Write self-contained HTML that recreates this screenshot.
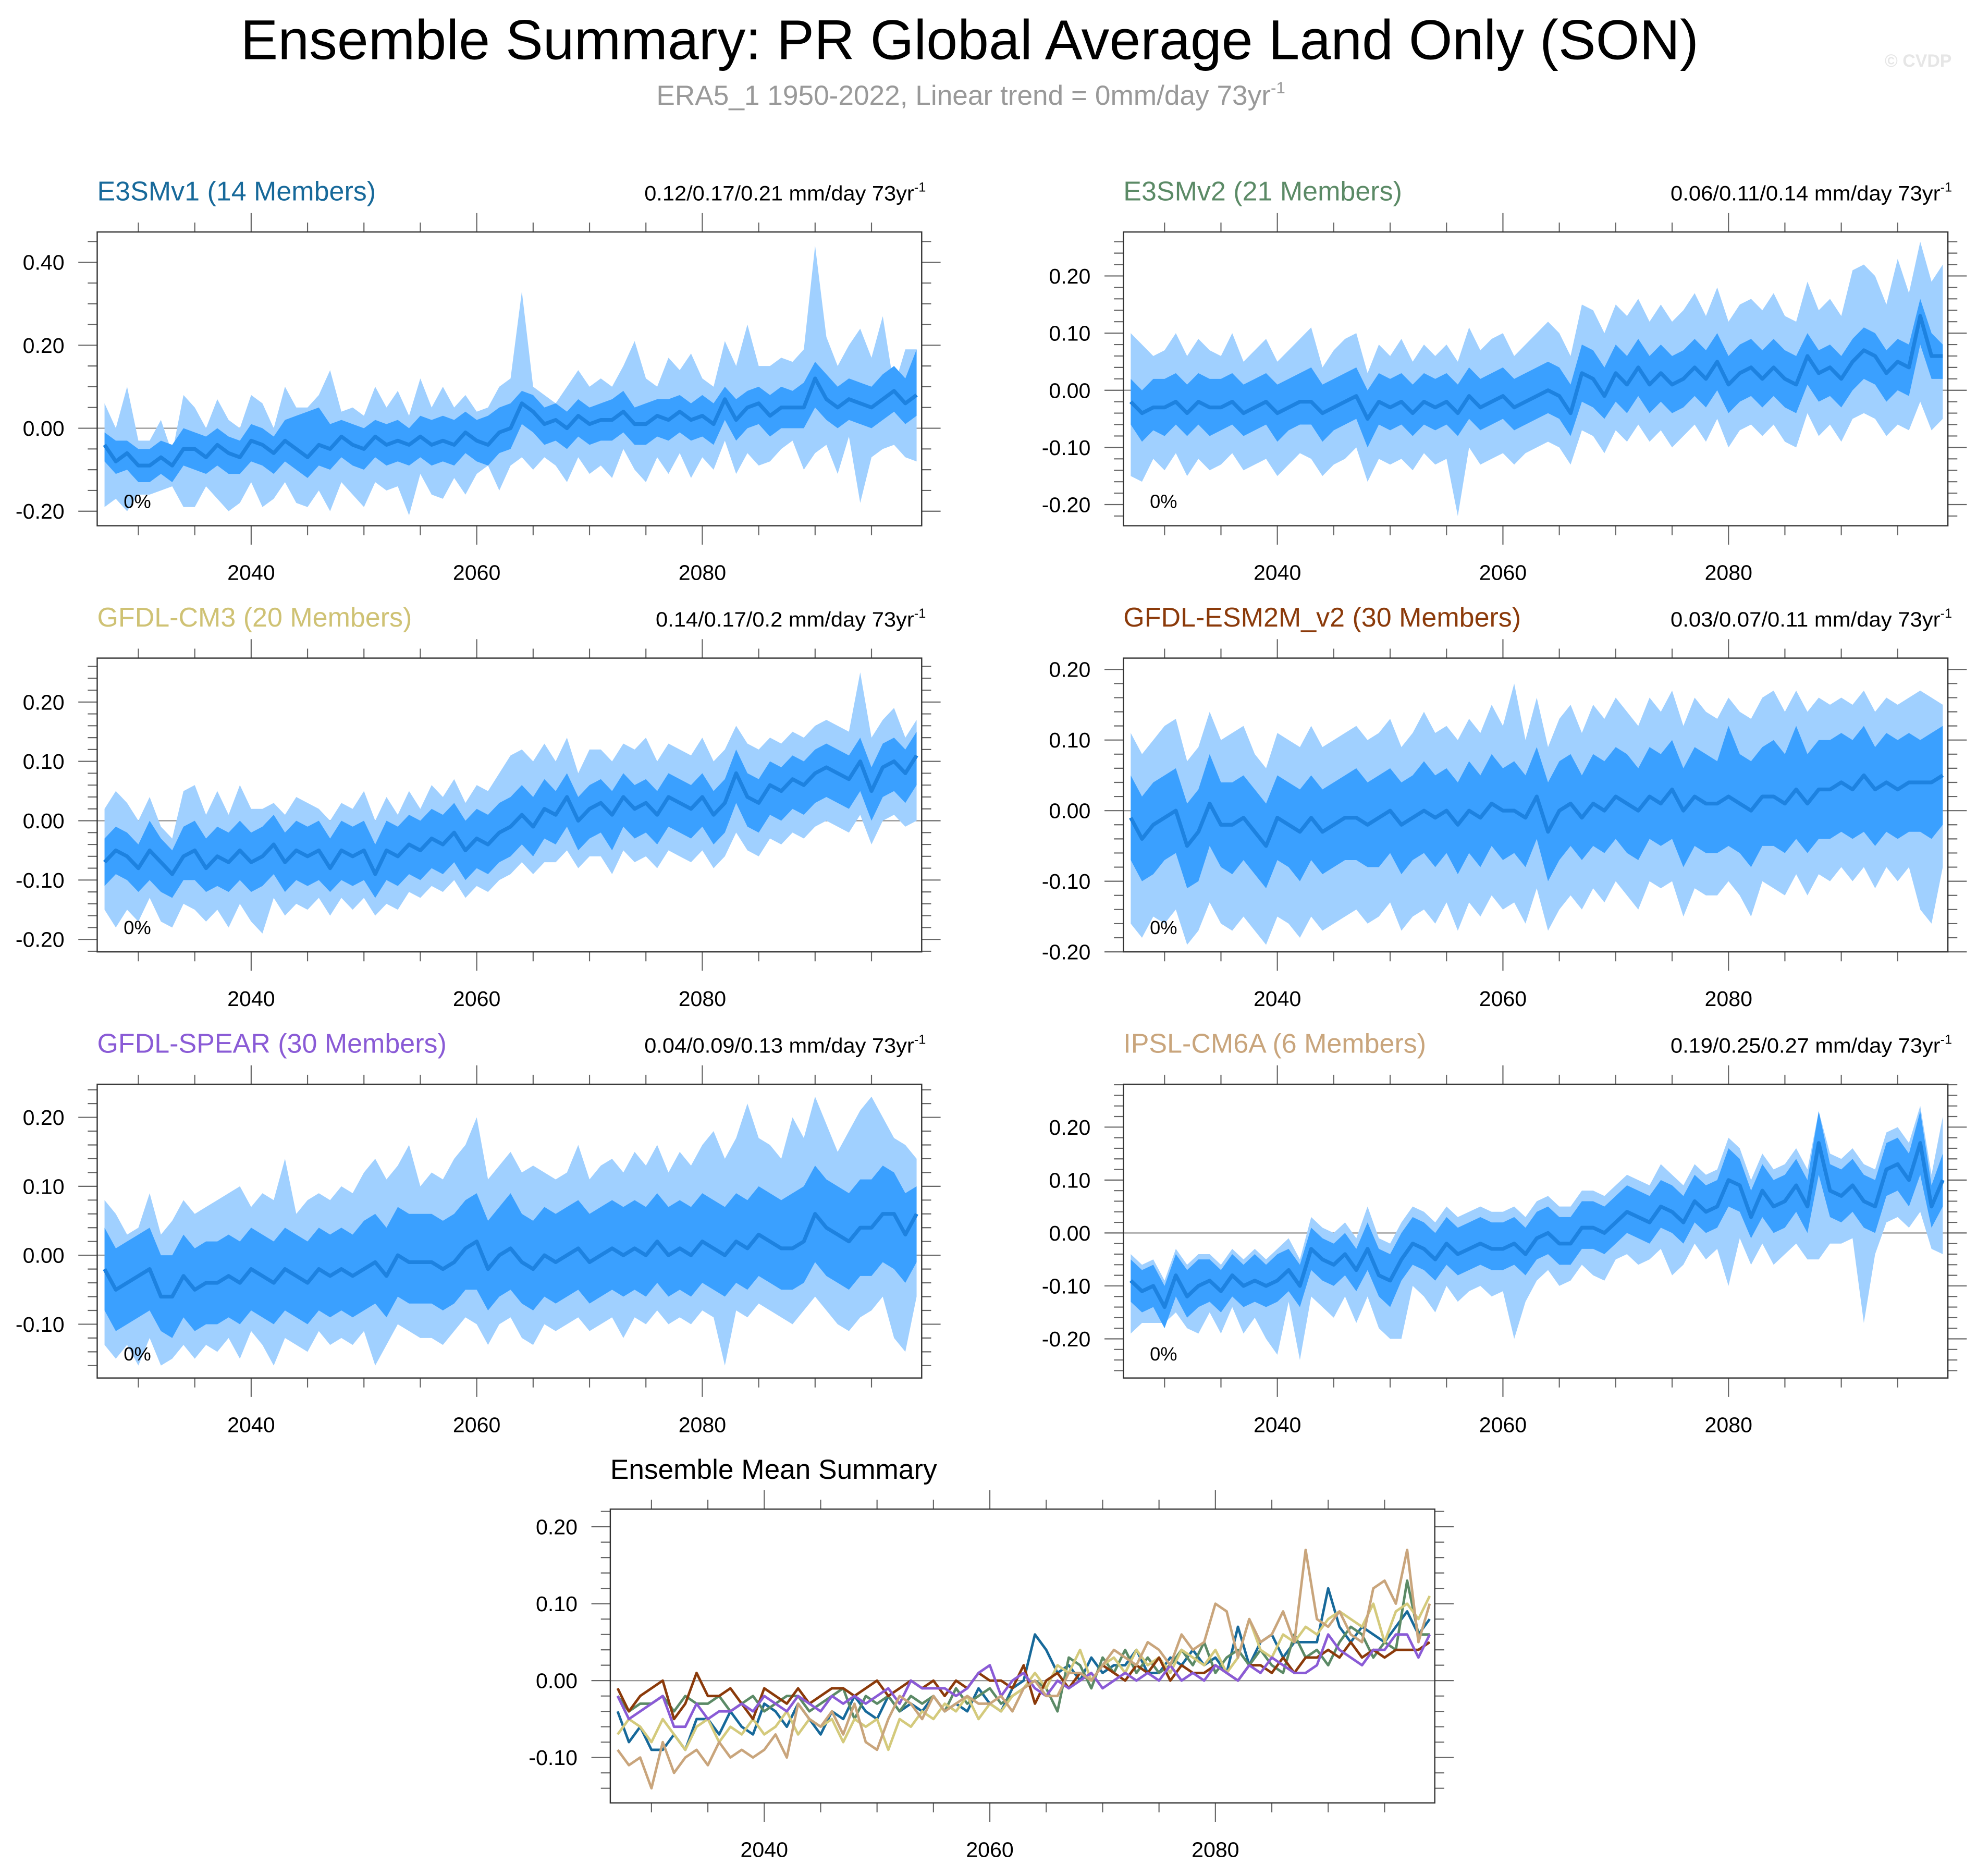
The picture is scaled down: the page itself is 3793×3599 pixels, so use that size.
<!DOCTYPE html>
<html><head><meta charset="utf-8">
<style>
html,body{margin:0;padding:0;background:#fff;}
svg{display:block;font-family:"Liberation Sans",sans-serif;}
</style></head>
<body>
<svg id="chart" xmlns="http://www.w3.org/2000/svg" width="3793" height="3599" viewBox="0 0 1568 1488">
<rect x="0" y="0" width="1568" height="1488" fill="#fff"/>
<text x="769" y="47" font-size="44.5" text-anchor="middle" fill="#000">Ensemble Summary: PR Global Average Land Only (SON)</text>
<text x="770" y="83" font-size="22" text-anchor="middle" fill="#999">ERA5_1 1950-2022, Linear trend = 0mm/day 73yr<tspan dy="-9" font-size="13">-1</tspan></text>
<text x="1548" y="53" font-size="14" font-weight="bold" text-anchor="end" fill="#e6e6e6">© CVDP</text>
<g id="panels"></g>
</svg>
<script>
const years = [];
for (let y = 2027; y <= 2099; y++) years.push(y);
const xTickLabels = [2040, 2060, 2080];

const e3v1Mean=[-0.04,-0.08,-0.06,-0.09,-0.09,-0.07,-0.09,-0.05,-0.05,-0.07,-0.04,-0.06,-0.07,-0.03,-0.04,-0.06,-0.03,-0.05,-0.07,-0.04,-0.05,-0.02,-0.04,-0.05,-0.02,-0.04,-0.03,-0.04,-0.02,-0.04,-0.03,-0.04,-0.01,-0.03,-0.04,-0.01,0.00,0.06,0.04,0.01,0.02,0.00,0.03,0.01,0.02,0.02,0.04,0.01,0.01,0.03,0.02,0.04,0.02,0.03,0.01,0.07,0.02,0.05,0.06,0.03,0.05,0.05,0.05,0.12,0.07,0.05,0.07,0.06,0.05,0.07,0.09,0.06,0.08];
const e3v1Hi2=[-0.01,-0.03,-0.03,-0.05,-0.05,-0.03,-0.04,0.00,-0.01,-0.02,0.00,-0.02,-0.03,0.01,0.00,-0.02,0.02,0.03,0.04,0.05,0.01,0.02,0.01,0.00,0.02,0.01,0.02,0.00,0.03,0.02,0.03,0.02,0.04,0.02,0.03,0.05,0.06,0.09,0.08,0.05,0.06,0.04,0.07,0.05,0.06,0.07,0.09,0.05,0.06,0.07,0.07,0.08,0.06,0.08,0.06,0.10,0.07,0.09,0.10,0.08,0.10,0.09,0.11,0.16,0.13,0.10,0.12,0.11,0.10,0.13,0.15,0.12,0.19];
const e3v1Lo2=[-0.08,-0.11,-0.10,-0.13,-0.13,-0.11,-0.13,-0.09,-0.10,-0.11,-0.09,-0.11,-0.11,-0.08,-0.09,-0.11,-0.08,-0.10,-0.12,-0.09,-0.10,-0.07,-0.09,-0.10,-0.07,-0.09,-0.08,-0.09,-0.07,-0.09,-0.08,-0.09,-0.06,-0.08,-0.09,-0.06,-0.05,0.01,-0.01,-0.04,-0.03,-0.05,-0.02,-0.04,-0.03,-0.03,-0.01,-0.04,-0.04,-0.02,-0.03,-0.01,-0.03,-0.02,-0.04,0.02,-0.03,0.00,0.01,-0.02,0.00,0.00,0.00,0.05,0.02,0.00,0.02,0.01,0.00,0.02,0.04,0.01,0.03];
const e3v1Hi1=[0.06,0.00,0.10,-0.03,-0.03,0.02,-0.06,0.08,0.05,0.00,0.07,0.02,0.00,0.08,0.06,0.00,0.10,0.05,0.05,0.08,0.14,0.04,0.05,0.03,0.10,0.05,0.09,0.03,0.12,0.05,0.10,0.05,0.08,0.04,0.05,0.10,0.12,0.33,0.10,0.08,0.06,0.10,0.14,0.10,0.12,0.10,0.15,0.21,0.12,0.10,0.17,0.14,0.18,0.12,0.10,0.21,0.15,0.25,0.15,0.15,0.17,0.16,0.19,0.44,0.22,0.15,0.20,0.24,0.17,0.27,0.10,0.19,0.19];
const e3v1Lo1=[-0.19,-0.17,-0.20,-0.16,-0.16,-0.15,-0.14,-0.19,-0.19,-0.14,-0.17,-0.20,-0.18,-0.13,-0.19,-0.17,-0.13,-0.18,-0.19,-0.15,-0.20,-0.13,-0.16,-0.19,-0.13,-0.15,-0.14,-0.21,-0.11,-0.16,-0.17,-0.12,-0.16,-0.11,-0.09,-0.15,-0.09,-0.07,-0.10,-0.07,-0.09,-0.13,-0.07,-0.11,-0.09,-0.12,-0.05,-0.10,-0.13,-0.07,-0.11,-0.06,-0.12,-0.07,-0.10,-0.03,-0.11,-0.06,-0.09,-0.08,-0.05,-0.03,-0.10,-0.06,-0.04,-0.11,-0.02,-0.18,-0.07,-0.05,-0.04,-0.07,-0.08];

const e3v2Mean=[-0.02,-0.04,-0.03,-0.03,-0.02,-0.04,-0.02,-0.03,-0.03,-0.02,-0.04,-0.03,-0.02,-0.04,-0.03,-0.02,-0.02,-0.04,-0.03,-0.02,-0.01,-0.05,-0.02,-0.03,-0.02,-0.04,-0.02,-0.03,-0.02,-0.04,-0.01,-0.03,-0.02,-0.01,-0.03,-0.02,-0.01,0.00,-0.01,-0.04,0.03,0.02,-0.01,0.03,0.01,0.04,0.01,0.03,0.01,0.02,0.04,0.02,0.05,0.01,0.03,0.04,0.02,0.04,0.02,0.01,0.06,0.03,0.04,0.02,0.05,0.07,0.06,0.03,0.05,0.04,0.13,0.06,0.06];
const e3v2Hi2=[0.02,0.00,0.02,0.02,0.03,0.01,0.03,0.02,0.02,0.03,0.01,0.02,0.03,0.01,0.02,0.03,0.04,0.01,0.02,0.03,0.04,0.00,0.03,0.02,0.03,0.01,0.03,0.02,0.03,0.01,0.04,0.02,0.03,0.04,0.02,0.03,0.04,0.05,0.04,0.01,0.08,0.07,0.04,0.08,0.06,0.09,0.06,0.08,0.06,0.07,0.09,0.07,0.10,0.06,0.08,0.09,0.07,0.09,0.07,0.06,0.10,0.07,0.08,0.06,0.09,0.11,0.10,0.07,0.09,0.08,0.16,0.10,0.08];
const e3v2Lo2=[-0.06,-0.09,-0.07,-0.08,-0.06,-0.08,-0.06,-0.08,-0.07,-0.06,-0.08,-0.07,-0.06,-0.09,-0.07,-0.06,-0.06,-0.09,-0.07,-0.06,-0.05,-0.10,-0.06,-0.07,-0.06,-0.08,-0.06,-0.07,-0.06,-0.08,-0.05,-0.07,-0.06,-0.05,-0.07,-0.06,-0.05,-0.04,-0.05,-0.08,-0.02,-0.03,-0.05,-0.02,-0.04,-0.01,-0.04,-0.02,-0.04,-0.03,-0.01,-0.03,0.00,-0.04,-0.02,-0.01,-0.03,-0.01,-0.03,-0.04,0.01,-0.02,-0.01,-0.03,0.00,0.02,0.01,-0.02,0.00,-0.01,0.08,0.02,0.02];
const e3v2Hi1=[0.10,0.08,0.06,0.07,0.10,0.06,0.09,0.07,0.06,0.10,0.05,0.07,0.09,0.05,0.07,0.09,0.11,0.04,0.07,0.09,0.10,0.03,0.08,0.06,0.09,0.05,0.08,0.06,0.08,0.05,0.11,0.07,0.09,0.10,0.06,0.08,0.10,0.12,0.10,0.06,0.15,0.14,0.10,0.15,0.13,0.16,0.12,0.15,0.12,0.14,0.17,0.13,0.18,0.12,0.15,0.16,0.14,0.17,0.13,0.12,0.19,0.14,0.16,0.13,0.21,0.22,0.20,0.15,0.23,0.17,0.26,0.19,0.22];
const e3v2Lo1=[-0.15,-0.16,-0.12,-0.14,-0.11,-0.15,-0.12,-0.14,-0.13,-0.11,-0.14,-0.13,-0.12,-0.15,-0.13,-0.11,-0.12,-0.15,-0.13,-0.12,-0.10,-0.16,-0.12,-0.13,-0.12,-0.14,-0.11,-0.13,-0.12,-0.22,-0.10,-0.13,-0.12,-0.11,-0.13,-0.11,-0.10,-0.09,-0.10,-0.13,-0.07,-0.08,-0.11,-0.07,-0.09,-0.06,-0.09,-0.07,-0.10,-0.08,-0.06,-0.09,-0.05,-0.10,-0.07,-0.06,-0.08,-0.06,-0.09,-0.10,-0.04,-0.08,-0.06,-0.09,-0.05,-0.04,-0.05,-0.08,-0.06,-0.07,-0.02,-0.07,-0.05];

const cm3Mean=[-0.07,-0.05,-0.06,-0.08,-0.05,-0.07,-0.09,-0.06,-0.05,-0.08,-0.06,-0.07,-0.05,-0.07,-0.06,-0.04,-0.07,-0.05,-0.06,-0.05,-0.08,-0.05,-0.06,-0.05,-0.09,-0.05,-0.06,-0.04,-0.05,-0.03,-0.04,-0.02,-0.05,-0.03,-0.04,-0.02,-0.01,0.01,-0.01,0.02,0.01,0.04,0.00,0.02,0.03,0.01,0.04,0.02,0.03,0.01,0.04,0.03,0.02,0.04,0.01,0.03,0.08,0.04,0.03,0.06,0.05,0.07,0.06,0.08,0.09,0.08,0.07,0.10,0.05,0.09,0.10,0.08,0.11];
const cm3Hi2=[-0.03,-0.01,-0.02,-0.04,0.00,-0.03,-0.05,-0.01,0.00,-0.03,-0.01,-0.02,0.00,-0.02,-0.01,0.01,-0.02,0.00,-0.01,0.00,-0.03,0.00,-0.01,0.00,-0.04,0.00,-0.01,0.01,0.00,0.02,0.01,0.03,0.00,0.02,0.01,0.03,0.04,0.06,0.04,0.07,0.05,0.08,0.04,0.06,0.07,0.05,0.08,0.06,0.07,0.05,0.08,0.07,0.06,0.08,0.05,0.07,0.12,0.08,0.07,0.10,0.09,0.11,0.10,0.12,0.13,0.12,0.11,0.14,0.09,0.13,0.14,0.12,0.15];
const cm3Lo2=[-0.11,-0.09,-0.10,-0.12,-0.10,-0.12,-0.13,-0.10,-0.10,-0.12,-0.11,-0.12,-0.10,-0.12,-0.11,-0.09,-0.12,-0.10,-0.11,-0.10,-0.12,-0.10,-0.11,-0.10,-0.13,-0.10,-0.11,-0.09,-0.10,-0.08,-0.09,-0.07,-0.10,-0.08,-0.09,-0.07,-0.06,-0.04,-0.06,-0.03,-0.04,-0.01,-0.05,-0.03,-0.02,-0.05,-0.01,-0.03,-0.02,-0.04,-0.01,-0.02,-0.03,-0.01,-0.04,-0.02,0.03,-0.01,-0.02,0.01,0.00,0.02,0.01,0.03,0.04,0.03,0.02,0.05,0.00,0.04,0.05,0.03,0.06];
const cm3Hi1=[0.02,0.05,0.03,0.00,0.04,-0.01,-0.03,0.05,0.06,0.01,0.05,0.01,0.06,0.02,0.02,0.03,0.01,0.04,0.03,0.02,0.00,0.03,0.02,0.05,0.00,0.04,0.01,0.05,0.02,0.06,0.04,0.07,0.03,0.06,0.05,0.08,0.11,0.12,0.10,0.13,0.10,0.14,0.08,0.12,0.12,0.10,0.13,0.12,0.14,0.10,0.13,0.12,0.11,0.14,0.10,0.12,0.16,0.13,0.12,0.14,0.13,0.15,0.14,0.16,0.17,0.16,0.15,0.25,0.14,0.17,0.19,0.14,0.17];
const cm3Lo1=[-0.15,-0.18,-0.15,-0.17,-0.13,-0.17,-0.18,-0.14,-0.15,-0.17,-0.15,-0.18,-0.14,-0.17,-0.19,-0.13,-0.16,-0.14,-0.15,-0.13,-0.16,-0.13,-0.15,-0.13,-0.16,-0.14,-0.15,-0.12,-0.13,-0.11,-0.12,-0.10,-0.13,-0.11,-0.12,-0.10,-0.09,-0.07,-0.09,-0.07,-0.07,-0.05,-0.08,-0.06,-0.06,-0.09,-0.05,-0.07,-0.06,-0.08,-0.05,-0.06,-0.07,-0.05,-0.08,-0.06,-0.02,-0.05,-0.06,-0.03,-0.04,-0.02,-0.03,-0.01,0.00,-0.01,-0.02,0.01,-0.04,0.00,0.01,-0.01,0.00];

const esmMean=[-0.01,-0.04,-0.02,-0.01,0.00,-0.05,-0.03,0.01,-0.02,-0.02,-0.01,-0.03,-0.05,-0.01,-0.02,-0.03,-0.01,-0.03,-0.02,-0.01,-0.01,-0.02,-0.01,0.00,-0.02,-0.01,0.00,-0.01,0.00,-0.02,0.00,-0.01,0.01,0.00,0.00,-0.01,0.02,-0.03,0.00,0.01,-0.01,0.01,0.00,0.02,0.01,0.00,0.02,0.01,0.03,0.00,0.02,0.01,0.01,0.02,0.01,0.00,0.02,0.02,0.01,0.03,0.01,0.03,0.03,0.04,0.03,0.05,0.03,0.04,0.03,0.04,0.04,0.04,0.05];
const esmHi2=[0.05,0.02,0.04,0.05,0.06,0.01,0.03,0.08,0.04,0.04,0.05,0.03,0.01,0.05,0.04,0.03,0.05,0.03,0.04,0.05,0.06,0.04,0.05,0.06,0.04,0.05,0.07,0.05,0.06,0.04,0.07,0.05,0.08,0.06,0.07,0.05,0.09,0.04,0.07,0.08,0.05,0.08,0.07,0.09,0.08,0.06,0.09,0.08,0.10,0.06,0.09,0.08,0.07,0.12,0.08,0.07,0.09,0.10,0.08,0.12,0.08,0.10,0.10,0.11,0.10,0.12,0.09,0.11,0.10,0.11,0.10,0.11,0.12];
const esmLo2=[-0.07,-0.10,-0.09,-0.07,-0.06,-0.11,-0.10,-0.05,-0.08,-0.09,-0.07,-0.09,-0.11,-0.07,-0.08,-0.10,-0.07,-0.09,-0.08,-0.07,-0.07,-0.08,-0.08,-0.06,-0.09,-0.07,-0.06,-0.08,-0.06,-0.09,-0.06,-0.08,-0.05,-0.07,-0.06,-0.08,-0.04,-0.10,-0.07,-0.05,-0.07,-0.05,-0.06,-0.04,-0.06,-0.07,-0.04,-0.05,-0.04,-0.08,-0.05,-0.06,-0.06,-0.05,-0.06,-0.08,-0.05,-0.05,-0.06,-0.04,-0.06,-0.04,-0.04,-0.03,-0.04,-0.03,-0.05,-0.03,-0.04,-0.03,-0.03,-0.04,-0.02];
const esmHi1=[0.11,0.08,0.10,0.12,0.13,0.07,0.09,0.14,0.10,0.11,0.12,0.08,0.06,0.11,0.10,0.09,0.12,0.09,0.10,0.11,0.12,0.10,0.11,0.13,0.09,0.11,0.14,0.11,0.12,0.10,0.13,0.11,0.15,0.12,0.18,0.10,0.16,0.09,0.13,0.15,0.11,0.15,0.13,0.16,0.14,0.12,0.16,0.14,0.17,0.12,0.16,0.14,0.13,0.16,0.14,0.13,0.16,0.17,0.14,0.17,0.14,0.16,0.15,0.16,0.15,0.17,0.14,0.16,0.15,0.16,0.17,0.16,0.15];
const esmLo1=[-0.16,-0.18,-0.15,-0.16,-0.14,-0.19,-0.17,-0.13,-0.16,-0.17,-0.15,-0.17,-0.19,-0.15,-0.16,-0.18,-0.15,-0.17,-0.16,-0.15,-0.14,-0.16,-0.15,-0.13,-0.17,-0.15,-0.14,-0.16,-0.13,-0.17,-0.13,-0.15,-0.12,-0.14,-0.13,-0.16,-0.11,-0.17,-0.14,-0.12,-0.14,-0.11,-0.13,-0.10,-0.12,-0.14,-0.10,-0.11,-0.10,-0.15,-0.11,-0.12,-0.12,-0.10,-0.12,-0.15,-0.10,-0.11,-0.12,-0.09,-0.12,-0.09,-0.10,-0.08,-0.10,-0.08,-0.11,-0.08,-0.10,-0.08,-0.14,-0.16,-0.08];

const spearMean=[-0.02,-0.05,-0.04,-0.03,-0.02,-0.06,-0.06,-0.03,-0.05,-0.04,-0.04,-0.03,-0.04,-0.02,-0.03,-0.04,-0.02,-0.03,-0.04,-0.02,-0.03,-0.02,-0.03,-0.02,-0.01,-0.03,0.00,-0.01,-0.01,-0.01,-0.02,-0.01,0.01,0.02,-0.02,0.00,0.01,-0.01,-0.02,0.00,-0.01,0.00,0.01,-0.01,0.00,0.01,0.00,0.01,0.00,0.02,0.00,0.01,0.00,0.02,0.01,0.00,0.02,0.01,0.03,0.02,0.01,0.01,0.02,0.06,0.04,0.03,0.02,0.04,0.04,0.06,0.06,0.03,0.06];
const spearHi2=[0.04,0.01,0.02,0.03,0.04,0.00,0.00,0.03,0.01,0.02,0.02,0.03,0.02,0.04,0.03,0.02,0.04,0.03,0.02,0.04,0.03,0.04,0.03,0.05,0.06,0.04,0.07,0.06,0.06,0.06,0.05,0.06,0.08,0.09,0.05,0.07,0.09,0.06,0.05,0.07,0.06,0.07,0.08,0.06,0.07,0.08,0.07,0.08,0.07,0.09,0.07,0.08,0.07,0.09,0.08,0.07,0.09,0.08,0.10,0.09,0.08,0.09,0.10,0.13,0.11,0.10,0.09,0.11,0.11,0.13,0.12,0.09,0.10];
const spearLo2=[-0.08,-0.11,-0.10,-0.09,-0.08,-0.11,-0.12,-0.09,-0.11,-0.10,-0.10,-0.09,-0.10,-0.08,-0.09,-0.10,-0.08,-0.09,-0.10,-0.08,-0.09,-0.08,-0.09,-0.08,-0.07,-0.09,-0.06,-0.07,-0.07,-0.07,-0.08,-0.07,-0.05,-0.05,-0.08,-0.06,-0.05,-0.07,-0.08,-0.06,-0.07,-0.06,-0.05,-0.07,-0.06,-0.05,-0.06,-0.05,-0.06,-0.04,-0.06,-0.05,-0.06,-0.04,-0.05,-0.06,-0.04,-0.05,-0.03,-0.04,-0.05,-0.05,-0.04,-0.01,-0.03,-0.04,-0.05,-0.03,-0.03,-0.01,-0.02,-0.04,-0.01];
const spearHi1=[0.08,0.06,0.03,0.04,0.09,0.03,0.05,0.08,0.06,0.07,0.08,0.09,0.10,0.07,0.09,0.08,0.14,0.06,0.08,0.09,0.08,0.10,0.09,0.12,0.14,0.11,0.13,0.16,0.10,0.12,0.11,0.14,0.16,0.20,0.11,0.13,0.15,0.12,0.13,0.12,0.11,0.12,0.16,0.11,0.13,0.14,0.12,0.15,0.13,0.16,0.12,0.15,0.13,0.16,0.18,0.14,0.17,0.22,0.17,0.16,0.14,0.20,0.17,0.23,0.19,0.15,0.18,0.21,0.23,0.20,0.17,0.16,0.14];
const spearLo1=[-0.13,-0.15,-0.13,-0.16,-0.12,-0.16,-0.15,-0.13,-0.15,-0.13,-0.14,-0.12,-0.15,-0.11,-0.13,-0.16,-0.12,-0.13,-0.14,-0.11,-0.13,-0.12,-0.13,-0.11,-0.16,-0.13,-0.10,-0.11,-0.12,-0.12,-0.13,-0.11,-0.09,-0.10,-0.13,-0.10,-0.09,-0.12,-0.13,-0.10,-0.11,-0.10,-0.09,-0.11,-0.10,-0.09,-0.12,-0.09,-0.10,-0.08,-0.10,-0.09,-0.10,-0.08,-0.09,-0.16,-0.08,-0.09,-0.07,-0.08,-0.09,-0.10,-0.08,-0.06,-0.08,-0.10,-0.11,-0.09,-0.08,-0.06,-0.12,-0.14,-0.06];

const ipslMean=[-0.09,-0.11,-0.10,-0.14,-0.08,-0.12,-0.10,-0.09,-0.11,-0.08,-0.10,-0.09,-0.10,-0.09,-0.07,-0.10,-0.03,-0.05,-0.06,-0.04,-0.07,-0.03,-0.08,-0.09,-0.05,-0.02,-0.03,-0.05,-0.02,-0.04,-0.03,-0.02,-0.03,-0.03,-0.02,-0.04,-0.01,0.00,-0.02,-0.02,0.01,0.01,0.00,0.02,0.04,0.03,0.02,0.05,0.04,0.02,0.06,0.04,0.05,0.10,0.09,0.03,0.08,0.05,0.06,0.09,0.05,0.17,0.08,0.07,0.09,0.06,0.05,0.12,0.13,0.10,0.17,0.05,0.10];
const ipslHi2=[-0.05,-0.07,-0.06,-0.10,-0.04,-0.07,-0.05,-0.05,-0.07,-0.04,-0.06,-0.04,-0.06,-0.04,-0.03,-0.06,0.01,-0.01,-0.02,0.00,-0.03,0.02,-0.03,-0.04,0.00,0.03,0.02,0.00,0.03,0.01,0.02,0.03,0.02,0.02,0.03,0.01,0.04,0.05,0.03,0.03,0.06,0.06,0.05,0.07,0.09,0.08,0.07,0.10,0.09,0.07,0.11,0.09,0.10,0.16,0.14,0.08,0.13,0.10,0.11,0.14,0.10,0.23,0.13,0.12,0.14,0.11,0.10,0.17,0.18,0.15,0.23,0.09,0.15];
const ipslLo2=[-0.13,-0.15,-0.14,-0.18,-0.12,-0.16,-0.14,-0.13,-0.15,-0.12,-0.14,-0.13,-0.14,-0.13,-0.11,-0.14,-0.07,-0.09,-0.10,-0.08,-0.11,-0.07,-0.12,-0.14,-0.09,-0.06,-0.07,-0.09,-0.06,-0.08,-0.07,-0.06,-0.07,-0.07,-0.06,-0.08,-0.05,-0.04,-0.06,-0.06,-0.03,-0.03,-0.04,-0.02,0.00,-0.01,-0.02,0.01,0.00,-0.02,0.02,0.00,0.01,0.05,0.04,-0.01,0.03,0.00,0.01,0.04,0.00,0.11,0.03,0.02,0.04,0.01,0.00,0.07,0.08,0.05,0.11,0.01,0.05];
const ipslHi1=[-0.04,-0.06,-0.05,-0.09,-0.03,-0.06,-0.04,-0.04,-0.06,-0.03,-0.05,-0.03,-0.05,-0.03,-0.01,-0.05,0.03,0.01,0.00,0.02,-0.01,0.05,-0.01,-0.02,0.02,0.05,0.04,0.02,0.05,0.03,0.04,0.05,0.04,0.04,0.05,0.03,0.06,0.07,0.05,0.05,0.08,0.08,0.07,0.09,0.11,0.10,0.09,0.13,0.11,0.09,0.13,0.11,0.12,0.18,0.16,0.10,0.15,0.12,0.13,0.16,0.12,0.23,0.15,0.14,0.16,0.13,0.12,0.19,0.20,0.17,0.24,0.11,0.22];
const ipslLo1=[-0.19,-0.17,-0.17,-0.17,-0.15,-0.18,-0.19,-0.15,-0.19,-0.14,-0.19,-0.16,-0.20,-0.23,-0.13,-0.24,-0.12,-0.14,-0.16,-0.12,-0.17,-0.12,-0.18,-0.20,-0.20,-0.10,-0.12,-0.15,-0.10,-0.13,-0.11,-0.10,-0.12,-0.11,-0.20,-0.13,-0.09,-0.07,-0.10,-0.09,-0.06,-0.08,-0.09,-0.05,-0.04,-0.06,-0.05,-0.03,-0.08,-0.06,-0.02,-0.05,-0.03,-0.10,-0.01,-0.06,-0.02,-0.06,-0.04,-0.02,-0.05,-0.05,-0.02,-0.02,-0.01,-0.17,-0.04,0.02,0.03,0.01,0.04,-0.03,-0.04];

const panelYTicks1 = [-0.20, 0.00, 0.20, 0.40];
const panelYTicksA = [-0.20, -0.10, 0.00, 0.10, 0.20];
const panelYTicksB = [-0.10, 0.00, 0.10, 0.20];

const NS = "http://www.w3.org/2000/svg";
const root = document.getElementById('panels');
function mk(tag, attrs, parent) {
  const e = document.createElementNS(NS, tag);
  for (const k in attrs) e.setAttribute(k, attrs[k]);
  (parent || root).appendChild(e);
  return e;
}

const panels = [
  {key:'e3smv1', title:'E3SMv1 (14 Members)', color:'#17699a', trend:'0.12/0.17/0.21 mm/day 73yr', tl:214, x:77, y:184, ymin:-0.235, ymax:0.473, yticks:panelYTicks1, minor:0.05, mean:e3v1Mean, hi1:e3v1Hi1, lo1:e3v1Lo1, hi2:e3v1Hi2, lo2:e3v1Lo2},
  {key:'e3smv2', title:'E3SMv2 (21 Members)', color:'#5b8a66', trend:'0.06/0.11/0.14 mm/day 73yr', tl:214, x:891, y:184, ymin:-0.237, ymax:0.277, yticks:panelYTicksA, minor:0.02, mean:e3v2Mean, hi1:e3v2Hi1, lo1:e3v2Lo1, hi2:e3v2Hi2, lo2:e3v2Lo2},
  {key:'gfdl-cm3', title:'GFDL-CM3 (20 Members)', color:'#cfc274', trend:'0.14/0.17/0.2 mm/day 73yr', tl:205, x:77, y:522, ymin:-0.221, ymax:0.274, yticks:panelYTicksA, minor:0.02, mean:cm3Mean, hi1:cm3Hi1, lo1:cm3Lo1, hi2:cm3Hi2, lo2:cm3Lo2},
  {key:'gfdl-esm2m', title:'GFDL-ESM2M_v2 (30 Members)', color:'#8b3a0a', trend:'0.03/0.07/0.11 mm/day 73yr', tl:214, x:891, y:522, ymin:-0.200, ymax:0.216, yticks:panelYTicksA, minor:0.02, mean:esmMean, hi1:esmHi1, lo1:esmLo1, hi2:esmHi2, lo2:esmLo2},
  {key:'gfdl-spear', title:'GFDL-SPEAR (30 Members)', color:'#8a5bd6', trend:'0.04/0.09/0.13 mm/day 73yr', tl:214, x:77, y:860, ymin:-0.178, ymax:0.248, yticks:panelYTicksB, minor:0.02, mean:spearMean, hi1:spearHi1, lo1:spearLo1, hi2:spearHi2, lo2:spearLo2},
  {key:'ipsl-cm6a', title:'IPSL-CM6A (6 Members)', color:'#c9a57c', trend:'0.19/0.25/0.27 mm/day 73yr', tl:214, x:891, y:860, ymin:-0.274, ymax:0.281, yticks:panelYTicksA, minor:0.02, mean:ipslMean, hi1:ipslHi1, lo1:ipslLo1, hi2:ipslHi2, lo2:ipslLo2}
];

const W = 654, H = 233, X0 = 2026.35, X1 = 2099.45;

function axes(g, px, py, ymin, ymax, yticks, minor) {
  const sx = v => px + (v - X0) / (X1 - X0) * W;
  const sy = v => py + H - (v - ymin) / (ymax - ymin) * H;
  const zl = mk('line', {x1:px, x2:px+W, y1:sy(0), y2:sy(0), stroke:'#999', 'stroke-width':1}, g);
  
  
  for (let yr = 2030; yr <= 2095; yr += 5) {
    const major = yr % 20 === 0;
    const len = major ? 15 : 7.5;
    const xx = sx(yr);
    mk('line', {x1:xx, x2:xx, y1:py+H, y2:py+H+len, stroke:'#666', 'stroke-width':0.9}, g);
    mk('line', {x1:xx, x2:xx, y1:py, y2:py-len, stroke:'#666', 'stroke-width':0.9}, g);
  }
  xTickLabels.forEach(v => {
    const t = mk('text', {x:sx(v), y:py+H+43, 'font-size':17, 'text-anchor':'middle', fill:'#000'}, g);
    t.textContent = v;
    
    
  });
  const start = Math.ceil(ymin / minor - 1e-6), end = Math.floor(ymax / minor + 1e-6);
  for (let i = start; i <= end; i++) {
    const v = i * minor;
    const major = yticks.some(t => Math.abs(t - v) < 1e-6);
    const len = major ? 15 : 7.5;
    const yy = sy(v);
    mk('line', {x1:px, x2:px-len, y1:yy, y2:yy, stroke:'#666', 'stroke-width':0.9}, g);
    mk('line', {x1:px+W, x2:px+W+len, y1:yy, y2:yy, stroke:'#666', 'stroke-width':0.9}, g);
  }
  yticks.forEach(v => {
    const t = mk('text', {x:px-26, y:sy(v)+6, 'font-size':17, 'text-anchor':'end', fill:'#000'}, g);
    t.textContent = v.toFixed(2);
    
    
  });
  return {sx, sy};
}

function area(g, sx, sy, hi, lo, fill, name) {
  let d = '';
  years.forEach((yr, i) => { d += (i ? 'L' : 'M') + sx(yr).toFixed(2) + ',' + sy(hi[i]).toFixed(2); });
  for (let i = years.length - 1; i >= 0; i--) d += 'L' + sx(years[i]).toFixed(2) + ',' + sy(lo[i]).toFixed(2);
  const p = mk('path', {d: d + 'Z', fill: fill, stroke: 'none'}, g);
  
  
}
function line(g, sx, sy, vals, color, w, name) {
  let d = '';
  years.forEach((yr, i) => { d += (i ? 'L' : 'M') + sx(yr).toFixed(2) + ',' + sy(vals[i]).toFixed(2); });
  const p = mk('path', {d, fill:'none', stroke:color, 'stroke-width':w, 'stroke-linejoin':'round'}, g);
  
  
}

panels.forEach(P => {
  const g = mk('g', {});
  
  
  const clipId = 'clip-' + P.key;
  const cp = mk('clipPath', {id: clipId}, g);
  mk('rect', {x:P.x, y:P.y, width:W, height:H}, cp);
  const ax = axes(g, P.x, P.y, P.ymin, P.ymax, P.yticks, P.minor);
  const dg = mk('g', {'clip-path': 'url(#' + clipId + ')'}, g);
  area(dg, ax.sx, ax.sy, P.hi1, P.lo1, '#a0d0ff', 'outer-spread-band');
  area(dg, ax.sx, ax.sy, P.hi2, P.lo2, '#3aa0ff', 'inner-spread-band');
  line(dg, ax.sx, ax.sy, P.mean, '#1d82e0', 3, 'ensemble-mean-line');
  const fr = mk('rect', {x:P.x, y:P.y, width:W, height:H, fill:'none', stroke:'#333', 'stroke-width':1}, g);
  
  
  const t = mk('text', {x:P.x, y:P.y-25, 'font-size':21.5, fill:P.color}, g);
  t.textContent = P.title;
  
  
  const tr = mk('text', {x:P.x+W+2-P.tl-8, y:P.y-25, 'font-size':16.5, fill:'#000'}, g);
  const main = mk('tspan', {textLength:P.tl, lengthAdjust:'spacingAndGlyphs'}, tr);
  main.textContent = P.trend;
  const sup = mk('tspan', {dy:-7, 'font-size':10.5}, tr);
  sup.textContent = '-1';
  
  
  const pc = mk('text', {x:P.x+21, y:P.y+219, 'font-size':15, fill:'#000'}, g);
  pc.textContent = '0%';
  
  
});

const summaryYTicks = [-0.10, 0.00, 0.10, 0.20];
const gs = mk('g', {});


const SX = 484, SY = 1197;
const cps = mk('clipPath', {id:'clip-summary'}, gs);
mk('rect', {x:SX, y:SY, width:W, height:H}, cps);
const axs = axes(gs, SX, SY, -0.159, 0.223, summaryYTicks, 0.02);
const dgs = mk('g', {'clip-path':'url(#clip-summary)'}, gs);
const summarySeries = [
  [e3v1Mean, '#17699a', 'e3smv1-mean-line'],
  [e3v2Mean, '#5b8a66', 'e3smv2-mean-line'],
  [cm3Mean, '#d4ca7c', 'gfdl-cm3-mean-line'],
  [esmMean, '#8b3a0a', 'gfdl-esm2m-mean-line'],
  [spearMean, '#8a5bd6', 'gfdl-spear-mean-line'],
  [ipslMean, '#c9a57c', 'ipsl-cm6a-mean-line']
];
summarySeries.forEach(s => line(dgs, axs.sx, axs.sy, s[0], s[1], 2, s[2]));
const sfr = mk('rect', {x:SX, y:SY, width:W, height:H, fill:'none', stroke:'#333', 'stroke-width':1}, gs);


const st = mk('text', {x:SX, y:SY-24, 'font-size':22, fill:'#000'}, gs);
st.textContent = 'Ensemble Mean Summary';


</script>
</body></html>
